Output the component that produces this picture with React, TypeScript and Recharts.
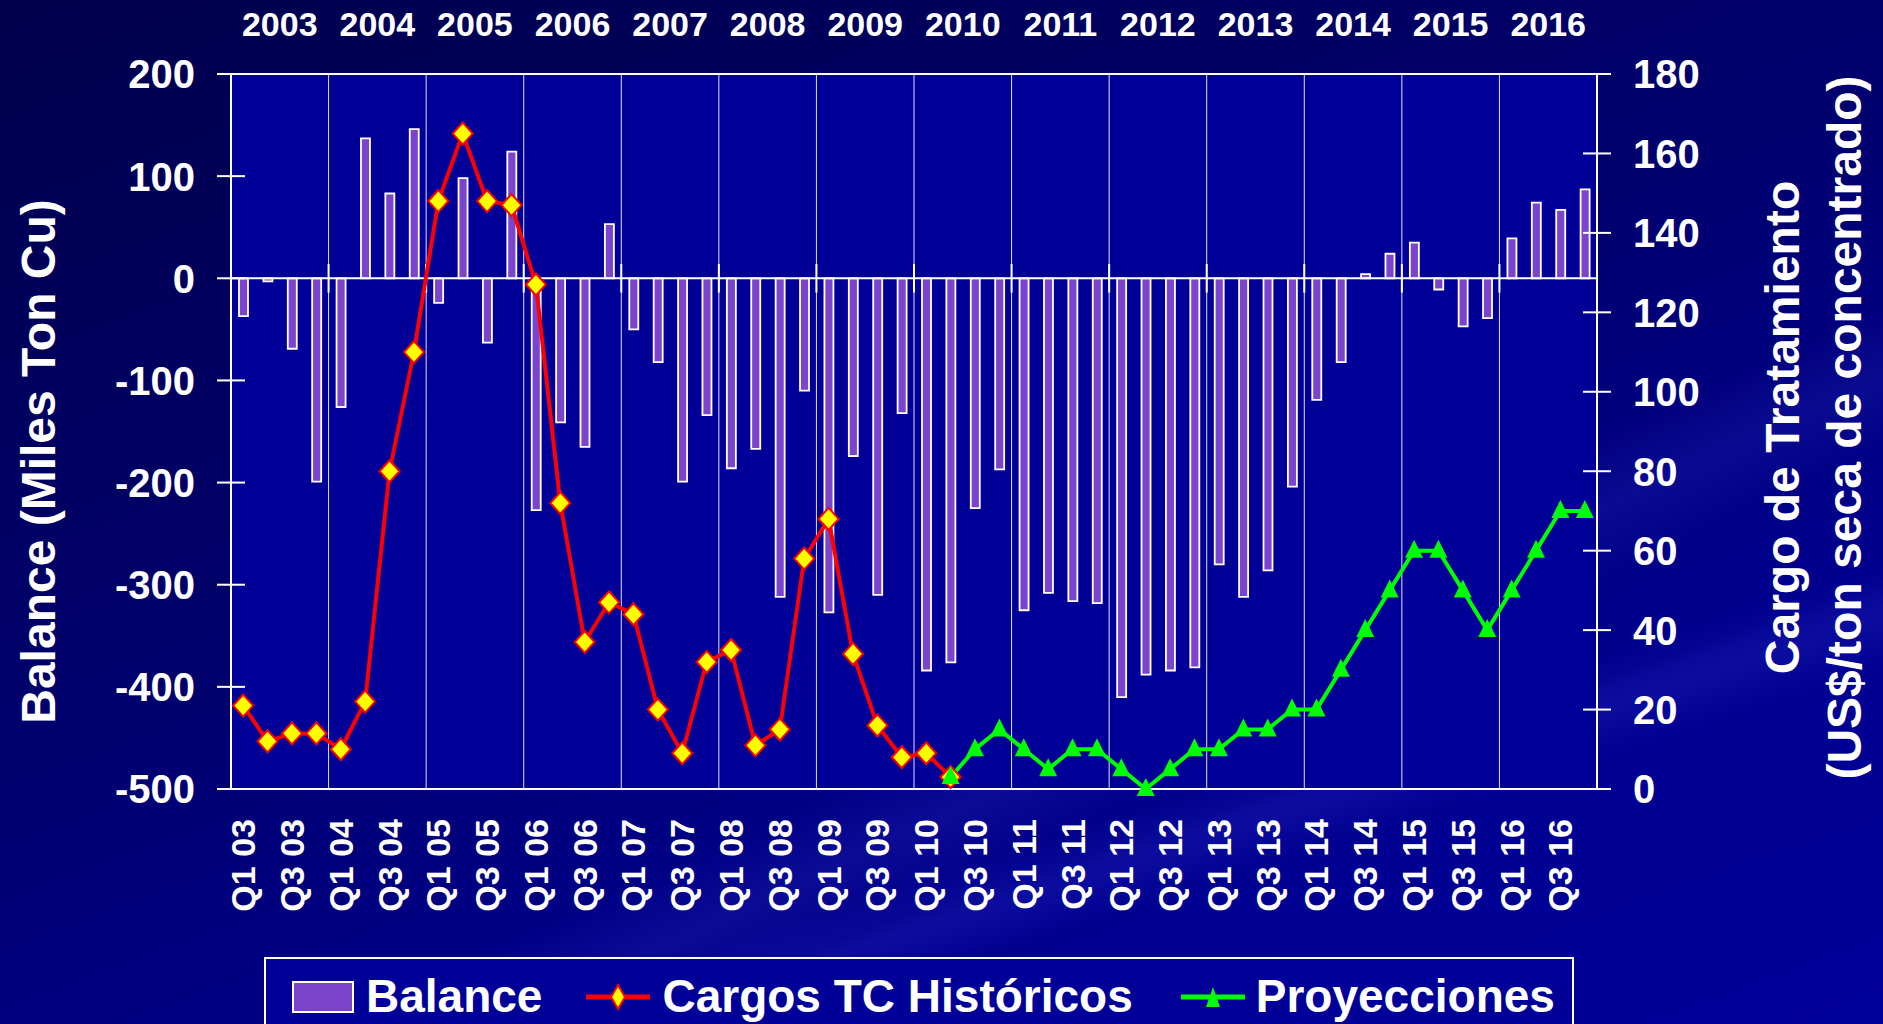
import React from 'react';
import { ComposedChart, Bar, Line, XAxis, YAxis, CartesianGrid, ReferenceLine } from 'recharts';

const quarters = [
  'Q1 03', 'Q2 03', 'Q3 03', 'Q4 03', 'Q1 04', 'Q2 04', 'Q3 04', 'Q4 04',
  'Q1 05', 'Q2 05', 'Q3 05', 'Q4 05', 'Q1 06', 'Q2 06', 'Q3 06', 'Q4 06',
  'Q1 07', 'Q2 07', 'Q3 07', 'Q4 07', 'Q1 08', 'Q2 08', 'Q3 08', 'Q4 08',
  'Q1 09', 'Q2 09', 'Q3 09', 'Q4 09', 'Q1 10', 'Q2 10', 'Q3 10', 'Q4 10',
  'Q1 11', 'Q2 11', 'Q3 11', 'Q4 11', 'Q1 12', 'Q2 12', 'Q3 12', 'Q4 12',
  'Q1 13', 'Q2 13', 'Q3 13', 'Q4 13', 'Q1 14', 'Q2 14', 'Q3 14', 'Q4 14',
  'Q1 15', 'Q2 15', 'Q3 15', 'Q4 15', 'Q1 16', 'Q2 16', 'Q3 16', 'Q4 16',
];

const years = [
  '2003', '2004', '2005', '2006', '2007', '2008', '2009',
  '2010', '2011', '2012', '2013', '2014', '2015', '2016',
];

// Balance (miles ton Cu), one value per quarter
const balance = [
  -37, -3, -69, -199, -126, 137, 83, 146,
  -24, 98, -63, 124, -227, -141, -165, 53,
  -50, -82, -199, -134, -186, -167, -312, -110,
  -327, -174, -310, -132, -384, -376, -225, -187,
  -325, -308, -316, -318, -410, -388, -384, -381,
  -280, -312, -286, -204, -119, -82, 4, 24,
  35, -11, -47, -39, 39, 74, 67, 87,
];

// Cargos TC históricos, Q1 03 .. Q2 10
const cargosHistoricos = [
  21, 12, 14, 14, 10, 22, 80, 110, 148, 165,
  148, 147, 127, 72, 37, 47, 44, 20, 9, 32,
  35, 11, 15, 58, 68, 34, 16, 8, 9, 3,
];

// Proyecciones, Q2 10 .. Q4 16
const proyecciones = [
  3, 10, 15, 10, 5, 10, 10, 5, 0, 5,
  10, 10, 15, 15, 20, 20, 30, 40, 50, 60,
  60, 50, 40, 50, 60, 70, 70,
];

const leftTicks = [200, 100, 0, -100, -200, -300, -400, -500];
const rightTicks = [180, 160, 140, 120, 100, 80, 60, 40, 20, 0];

const projStart = quarters.indexOf('Q2 10');

const data = quarters.map((q, i) => ({
  i,
  q,
  balance: balance[i],
  historico: i < cargosHistoricos.length ? cargosHistoricos[i] : null,
  proyeccion: i >= projStart ? proyecciones[i - projStart] : null,
}));

const quarterTicks = data.filter((d) => /^Q[13]/.test(d.q)).map((d) => d.i);
const yearCenters = years.map((y) => quarters.indexOf('Q2 ' + y.slice(2)) + 0.5);
const yearBounds = years.slice(1).map((y) => quarters.indexOf('Q1 ' + y.slice(2)) - 0.5);

const FONT = '"Liberation Sans", Arial, Helvetica, sans-serif';
const W = 1883;
const H = 1024;
const PLOT_TOP = 74;
const PLOT_BOTTOM = 789;
const LEFT_W = 231;
const RIGHT_W = 286;
const X_DOMAIN: [number, number] = [-0.5, quarters.length - 0.5];

const txt = { fill: '#ffffff', fontFamily: FONT, fontWeight: 'bold' as const };

const QuarterTick = (props: any) => {
  const { x, y, payload } = props;
  return (
    <text x={x} y={y} dy={12} transform={`rotate(-90, ${x}, ${y})`} textAnchor="end" fontSize={34} {...txt}>
      {quarters[payload.value]}
    </text>
  );
};

const YearTick = (props: any) => {
  const { x, y, payload } = props;
  return (
    <text x={x} y={y - 38} textAnchor="middle" fontSize={34} {...txt}>
      {years[Math.floor(payload.value / 4)]}
    </text>
  );
};

const LeftTick = (props: any) => {
  const { x, y, payload } = props;
  return (
    <g>
      <line x1={x + 22} x2={x + 50} y1={y} y2={y} stroke="#ffffff" strokeWidth={2} />
      <text x={x} y={y} dy="0.36em" textAnchor="end" fontSize={40} {...txt}>
        {payload.value}
      </text>
    </g>
  );
};

const RightTick = (props: any) => {
  const { x, y, payload } = props;
  return (
    <g>
      <line x1={x - 50} x2={x - 22} y1={y} y2={y} stroke="#ffffff" strokeWidth={2} />
      <text x={x} y={y} dy="0.36em" textAnchor="start" fontSize={40} {...txt}>
        {payload.value}
      </text>
    </g>
  );
};

const Diamond = (props: any) => {
  const { cx, cy, index } = props;
  if (cx == null || cy == null) return <g key={index} />;
  return (
    <path
      key={index}
      d={`M${cx},${cy - 11} L${cx + 10},${cy} L${cx},${cy + 11} L${cx - 10},${cy} Z`}
      fill="#ffff00"
      stroke="#ff0000"
      strokeWidth={2}
    />
  );
};

const Triangle = (props: any) => {
  const { cx, cy, index } = props;
  if (cx == null || cy == null) return <g key={index} />;
  return <path key={index} d={`M${cx},${cy - 11} L${cx + 9},${cy + 7} L${cx - 9},${cy + 7} Z`} fill="#00ff00" />;
};

const LeftTitle = (props: any) => {
  const vb = props.viewBox || { x: 0, y: PLOT_TOP, height: PLOT_BOTTOM - PLOT_TOP };
  const x = vb.x + 55;
  const y = vb.y + vb.height / 2 + 30;
  return (
    <text x={x} y={y} transform={`rotate(-90, ${x}, ${y})`} textAnchor="middle" fontSize={48} {...txt}>
      Balance (Miles Ton Cu)
    </text>
  );
};

const RightTitle = (props: any) => {
  const vb = props.viewBox || { x: W - RIGHT_W, y: PLOT_TOP, height: PLOT_BOTTOM - PLOT_TOP };
  const x1 = vb.x + 202;
  const x2 = vb.x + 264;
  const y = vb.y + vb.height / 2 - 4;
  return (
    <g>
      <text x={x1} y={y} transform={`rotate(-90, ${x1}, ${y})`} textAnchor="middle" fontSize={48} {...txt}>
        Cargo de Tratamiento
      </text>
      <text x={x2} y={y} transform={`rotate(-90, ${x2}, ${y})`} textAnchor="middle" fontSize={48} {...txt}>
        (US$/ton seca de concentrado)
      </text>
    </g>
  );
};

const legendText: React.CSSProperties = {
  color: '#ffffff',
  fontFamily: FONT,
  fontWeight: 'bold',
  fontSize: 46,
  lineHeight: '46px',
  whiteSpace: 'nowrap',
};

const ChartLegend = () => (
  <div
    style={{
      position: 'absolute',
      left: 264,
      top: 957,
      width: 1310,
      height: 90,
      border: '2px solid #ffffff',
      background: '#000099',
      boxSizing: 'border-box',
      display: 'flex',
      alignItems: 'flex-start',
      paddingTop: 14,
      paddingLeft: 26,
    }}
  >
    <svg width={62} height={46} style={{ marginRight: 12 }}>
      <rect x={1} y={9} width={60} height={30} fill="#7b44cc" stroke="#ffffff" strokeWidth={2} />
    </svg>
    <span style={{ ...legendText, marginRight: 44 }}>Balance</span>
    <svg width={64} height={46} style={{ marginRight: 12 }}>
      <line x1={0} x2={64} y1={24} y2={24} stroke="#ff0000" strokeWidth={5} />
      <path d="M32,12 L39,24 L32,36 L25,24 Z" fill="#ffff00" stroke="#ff0000" strokeWidth={2} />
    </svg>
    <span style={{ ...legendText, marginRight: 48 }}>Cargos TC Históricos</span>
    <svg width={64} height={46} style={{ marginRight: 11 }}>
      <line x1={0} x2={64} y1={24} y2={24} stroke="#00ff00" strokeWidth={5} />
      <path d="M32,14 L39,34 L25,34 Z" fill="#00ff00" />
    </svg>
    <span style={legendText}>Proyecciones</span>
  </div>
);

export default function App() {
  return (
    <div
      style={{
        position: 'absolute',
        left: 0,
        top: 0,
        width: W,
        height: H,
        overflow: 'hidden',
        background:
          'linear-gradient(155deg, rgba(255,255,255,0) 62%, rgba(90,90,255,0.12) 66%, rgba(255,255,255,0) 70%), ' +
          'linear-gradient(162deg, rgba(255,255,255,0) 72%, rgba(90,90,255,0.14) 75%, rgba(255,255,255,0) 78%), ' +
          'linear-gradient(160deg, #00004c 0%, #00006e 45%, #000090 75%, #00009a 100%)',
      }}
    >
      <ComposedChart
        width={W}
        height={H}
        data={data}
        margin={{ top: PLOT_TOP - 60, right: 0, bottom: H - PLOT_BOTTOM - 150, left: 0 }}
      >
        <CartesianGrid fill="#000099" horizontal={false} vertical={false} stroke="none" yAxisId="left" xAxisId="bottom" />
        <XAxis
          xAxisId="bottom"
          dataKey="i"
          type="number"
          domain={X_DOMAIN}
          ticks={quarterTicks}
          interval={0}
          height={150}
          axisLine={{ stroke: '#ffffff', strokeWidth: 2 }}
          tickLine={false}
          tickSize={0}
          tickMargin={30}
          tick={<QuarterTick />}
        />
        <XAxis
          xAxisId="top"
          orientation="top"
          dataKey="i"
          type="number"
          domain={X_DOMAIN}
          ticks={yearCenters}
          interval={0}
          height={60}
          axisLine={false}
          tickLine={false}
          tickSize={0}
          tickMargin={0}
          tick={<YearTick />}
        />
        <YAxis
          yAxisId="left"
          orientation="left"
          width={LEFT_W}
          domain={[-500, 200]}
          ticks={leftTicks}
          interval={0}
          axisLine={{ stroke: '#ffffff', strokeWidth: 2 }}
          tickLine={false}
          tickSize={0}
          tickMargin={36}
          tick={<LeftTick />}
          label={{ content: <LeftTitle /> }}
        />
        <YAxis
          yAxisId="right"
          orientation="right"
          width={RIGHT_W}
          domain={[0, 180]}
          ticks={rightTicks}
          interval={0}
          axisLine={{ stroke: '#ffffff', strokeWidth: 2 }}
          tickLine={false}
          tickSize={0}
          tickMargin={36}
          tick={<RightTick />}
          label={{ content: <RightTitle /> }}
        />
        {yearBounds.map((b) => (
          <ReferenceLine key={`yb-${b}`} x={b} xAxisId="bottom" yAxisId="left" stroke="#e0e0ff" strokeWidth={1} />
        ))}
        {yearBounds.map((b) => (
          <ReferenceLine
            key={`yt-${b}`}
            xAxisId="bottom"
            yAxisId="left"
            segment={[{ x: b, y: -14 }, { x: b, y: 14 }]}
            stroke="#ffffff"
            strokeWidth={2}
          />
        ))}
        <ReferenceLine y={200} yAxisId="left" xAxisId="bottom" stroke="#ffffff" strokeWidth={2} />
        <Bar
          xAxisId="bottom"
          yAxisId="left"
          dataKey="balance"
          barSize={9}
          fill="#7b44cc"
          stroke="#ffffff"
          strokeWidth={1.8}
          isAnimationActive={false}
        />
        <ReferenceLine y={0} yAxisId="left" xAxisId="bottom" stroke="#ffffff" strokeWidth={2} />
        <Line
          xAxisId="top"
          yAxisId="right"
          dataKey="historico"
          stroke="#ff0000"
          strokeWidth={4}
          dot={<Diamond />}
          activeDot={false}
          connectNulls={false}
          isAnimationActive={false}
        />
        <Line
          xAxisId="top"
          yAxisId="right"
          dataKey="proyeccion"
          stroke="#00ff00"
          strokeWidth={4}
          dot={<Triangle />}
          activeDot={false}
          connectNulls={false}
          isAnimationActive={false}
        />
      </ComposedChart>
      <ChartLegend />
    </div>
  );
}
